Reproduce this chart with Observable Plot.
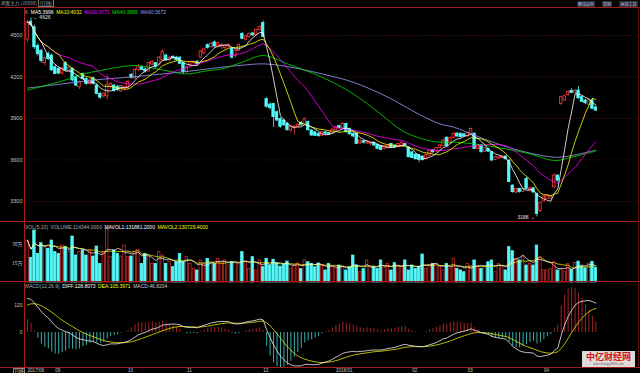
<!DOCTYPE html>
<html><head><meta charset="utf-8">
<script src="https://cdn.jsdelivr.net/npm/d3@7"></script>
<script src="https://cdn.jsdelivr.net/npm/@observablehq/plot@0.6"></script>
<style>
html,body{margin:0;padding:0;background:#000;}
#wrap{position:relative;width:640px;height:373px;background:#000;overflow:hidden;font-family:"Liberation Sans","Noto Sans CJK SC",sans-serif;}
.p{position:absolute;left:0;}
.ln{position:absolute;background:#a41c1c;}
.lg{position:absolute;left:25px;font-size:5px;line-height:6px;white-space:nowrap;}
.lg span{margin-right:2.5px;}
.btn{position:absolute;top:0.5px;height:6px;line-height:6px;font-size:4px;background:#2e2e3c;color:#b4bcd4;text-align:center;font-family:"Noto Sans CJK SC",sans-serif;}
</style></head><body>
<div id="wrap">
  <div style="position:absolute;left:1px;top:0px;font-size:4.6px;line-height:7px;color:#a0a0a0;font-family:'Noto Sans CJK SC',sans-serif;white-space:nowrap;">鸡蛋主力 (JD888) <span style="border:0.5px solid #777;padding:0 1px;">(日线)</span></div>
  <div class="btn" style="left:577px;width:18px;">叠加品种</div>
  <div class="btn" style="left:602px;width:10px;">周期</div>
  <div class="btn" style="left:619px;width:19px;">画线工具</div>
  <div id="main" class="p" style="top:7px;"></div>
  <div id="vol" class="p" style="top:221px;"></div>
  <div id="macd" class="p" style="top:282px;"></div>
  <div class="ln" style="left:0;top:7px;width:640px;height:1px;"></div>
  <div class="ln" style="left:0;top:221px;width:640px;height:1px;"></div>
  <div class="ln" style="left:0;top:281px;width:640px;height:1px;"></div>
  <div class="ln" style="left:0;top:367px;width:640px;height:1px;"></div>
  <div class="ln" style="left:24px;top:7px;width:1px;height:360px;"></div>
  <div class="ln" style="left:638px;top:7px;width:1px;height:360px;background:#5a1010;"></div>
  <div class="lg" style="top:8.5px;"><span style="color:#aaa">K</span><span style="color:#fff">MA5:3996</span><span style="color:#ffff00">MA10:4032</span><span style="color:#ff00ff">MA20:3771</span><span style="color:#00e000">MA40:3665</span><span style="color:#9a9aff">MA60:3672</span></div>
  <div class="lg" style="top:224px;"><span style="color:#aaa">VOL(5,10)</span><span style="color:#aaa">VOLUME:114344.0000</span><span style="color:#fff">MAVOL1:131881.2000</span><span style="color:#ffff00">MAVOL2:130729.4000</span></div>
  <div class="lg" style="top:282.5px;"><span style="color:#aaa">MACD(12,26,9)</span><span style="color:#fff">DIFF:128.8073</span><span style="color:#ffff00">DEA:105.3971</span><span style="color:#ccc">MACD:46.8204</span></div>
  <div style="position:absolute;left:13px;top:367.5px;font-size:4.6px;line-height:5px;color:#ddd;border:0.5px solid #888;padding:0 0.5px;font-family:'Noto Sans CJK SC',sans-serif;">日线</div>
  <div style="position:absolute;left:582px;top:351px;width:53px;height:16px;background:rgba(240,235,235,0.92);text-align:center;">
    <div style="font-size:9px;line-height:11px;height:11px;font-weight:bold;color:#d21414;font-family:'Noto Sans CJK SC',sans-serif;">中亿财经网</div>
    <div style="font-size:3px;line-height:4px;height:4px;color:#666;">www.zhongyi9999.com</div>
  </div>
</div>
<script>
const opens  = [4470,4600,4560,4425,4390,4300,4365,4355,4270,4258, 4225,4300,4240,4258,4198,4126,4222,4186,4150,4190, 4138,4078,4060,4060,4130,4138,4130,4095,4115,4125, 4215,4190,4250,4270,4255,4240,4290,4300,4290,4320, 4355,4320,4345,4340,4340,4300,4235,4285,4300,4310, 4340,4370,4430,4415,4450,4420,4420,4410,4420,4405, 4350,4390,4512,4470,4490,4515,4505,4540,4590,4040, 4000,4005,3945,3897,3885,3860,3813,3830,3840,3870, 3860,3873,3813,3800,3790,3775,3800,3795,3790,3815, 3845,3830,3860,3825,3790,3790,3720,3735,3720,3715, 3725,3710,3700,3680,3685,3715,3705,3695,3700,3715, 3690,3655,3640,3635,3625,3610,3630,3670,3660,3685, 3700,3760,3720,3760,3790,3790,3785,3770,3790,3790, 3680,3705,3660,3680,3656,3600,3610,3615,3625,3596, 3415,3365,3390,3370,3463,3375,3395,3355,3230,3300, 3320,3320,3403,3487,4005,4030,4070,4100,4085,4102, 4054,4030,4000,4030,3980];
const highs  = [4610,4626,4575,4440,4400,4345,4380,4365,4290,4270, 4270,4310,4275,4265,4210,4170,4230,4195,4190,4200, 4150,4090,4085,4215,4160,4145,4140,4140,4130,4175, 4225,4260,4290,4280,4265,4310,4320,4305,4350,4400, 4365,4350,4355,4350,4345,4305,4275,4310,4315,4320, 4395,4410,4440,4450,4460,4450,4445,4430,4440,4410, 4400,4440,4520,4500,4520,4520,4545,4570,4605,4050, 4015,4010,3955,3905,3890,3870,3845,3850,3860,3875, 3905,3880,3820,3805,3795,3805,3805,3800,3825,3840, 3850,3870,3865,3830,3795,3795,3745,3740,3740,3730, 3730,3715,3705,3705,3710,3720,3710,3720,3730,3720, 3695,3660,3645,3640,3630,3640,3670,3675,3690,3710, 3750,3770,3765,3795,3800,3795,3790,3800,3830,3795, 3710,3710,3690,3685,3660,3625,3625,3630,3630,3600, 3420,3395,3395,3395,3475,3400,3400,3360,3295,3345, 3350,3345,3500,3495,4060,4070,4100,4115,4110,4130, 4060,4040,4040,4045,3990];
const lows   = [4450,4560,4400,4350,4300,4280,4320,4240,4215,4215, 4215,4240,4230,4165,4130,4110,4180,4140,4140,4140, 4070,4040,4050,4035,4110,4090,4095,4090,4100,4115, 4185,4180,4240,4245,4230,4235,4280,4265,4280,4310, 4315,4310,4325,4315,4290,4220,4225,4280,4290,4290, 4330,4360,4400,4410,4410,4410,4400,4395,4410,4330, 4340,4385,4470,4460,4480,4495,4500,4530,4480,3975, 3960,3835,3880,3830,3845,3810,3800,3780,3830,3845, 3855,3810,3770,3770,3765,3770,3780,3780,3785,3810, 3825,3825,3795,3780,3760,3710,3710,3715,3710,3700, 3695,3675,3665,3675,3680,3685,3685,3690,3695,3700, 3615,3610,3600,3580,3595,3600,3625,3650,3655,3680, 3695,3695,3715,3755,3765,3760,3765,3765,3785,3675, 3675,3650,3655,3655,3590,3595,3605,3610,3600,3435, 3360,3355,3360,3365,3385,3370,3360,3188,3220,3295, 3315,3315,3395,3440,3995,4025,4060,4080,4080,4040, 4015,4000,3990,3965,3950];
const closes = [4596,4575,4415,4365,4315,4335,4330,4248,4222,4225, 4262,4248,4268,4175,4138,4162,4186,4150,4175,4150, 4078,4050,4080,4140,4150,4100,4105,4135,4125,4165, 4195,4250,4270,4250,4240,4300,4310,4275,4340,4380, 4320,4340,4335,4320,4295,4235,4270,4305,4308,4295, 4385,4400,4410,4440,4420,4445,4430,4425,4432,4340, 4390,4430,4476,4495,4510,4500,4540,4560,4490,3985, 3975,3910,3885,3840,3850,3815,3840,3835,3855,3850, 3895,3815,3777,3775,3772,3800,3790,3785,3820,3835, 3830,3860,3800,3785,3770,3716,3740,3725,3735,3725, 3705,3680,3672,3700,3705,3690,3692,3715,3725,3705, 3620,3615,3605,3600,3598,3635,3665,3655,3685,3705, 3740,3700,3760,3790,3770,3765,3770,3795,3825,3680, 3705,3656,3685,3660,3596,3620,3620,3625,3605,3440, 3367,3390,3367,3390,3391,3395,3365,3210,3290,3335, 3340,3335,3487,3451,4054,4060,4090,4085,4100,4045, 4020,4010,4030,3970,3957];
const volumes = [331000,195000,410000,226000,310000,279000,266000,331000,240000,226000, 292000,279000,240000,363000,213000,240000,253000,213000,253000,205000, 284000,147000,240000,424000,200000,253000,226000,205000,292000,200000, 205000,240000,258000,147000,226000,200000,147000,147000,240000,213000, 147000,160000,121000,160000,226000,160000,200000,147000,108000,95000, 174000,147000,187000,160000,147000,187000,160000,174000,134000,160000, 160000,134000,240000,160000,108000,200000,95000,174000,121000,187000, 134000,180000,150000,125000,140000,165000,110000,135000,150000,105000, 175000,160000,145000,120000,150000, 134000,95000,147000,121000,110000, 134000,126000,95000,120000,213000, 134000,81000,105000,174000,121000, 121000,108000,174000,115000,147000, 95000,153000,134000,120000,174000, 95000,134000,108000,121000,221000, 108000,134000,147000,147000,121000, 95000,147000,110000,187000,108000, 95000,81000,147000,130000,174000, 121000,108000,121000,160000,174000, 81000,147000,121000,95000,279000, 247000,187000,174000,200000,134000, 147000,134000,292000,200000,95000, 95000,108000,160000,95000,100000, 85000,145000,98000,155000,164888, 124000,112000,148000,161062,114344];

// MA40 / MA60 readings (bar index, value)
const ma40Idx = [0,2,7,12,16,21,26,31,35,40,46,52,56,62,68,75,85,94,102,108,114,119,123,129,138,145,152,157,164];
const ma40Val = [4105,4118,4150,4186,4222,4246,4270,4283,4270,4246,4222,4246,4258,4307,4355,4295,4198,4078,3930,3813,3752,3728,3728,3716,3680,3644,3596,3620,3665];
const ma60Idx = [0,10,20,30,38,46,56,62,68,75,85,94,104,113,119,123,133,142,152,157,164];
const ma60Val = [4120,4150,4180,4200,4220,4240,4270,4285,4295,4275,4222,4162,4054,3930,3861,3837,3740,3668,3620,3632,3672];

// MACD starting state
const ema12Start = 4450, ema26Start = 4300, deaStart = 115;

const monthTicks  = [0,8,29,46,68,89,111,127,149];
const monthLabels = ["2017/08","09","10","11","12","2018/01","02","03","04"];
const priceTicks = [3300,3600,3900,4200,4500];
const volTicks = [150000,300000];
const volTickLabels = ["15万","30万"];
const macdTicks = [0,120];

const RED = "#ff3a3a", CYAN = "#54f8f8", GRID = "#5a1212", AX = "#c4c4c4";
const FONT = "Liberation Sans, sans-serif";

const bars = closes.map((c, i) => ({i, o: opens[i], h: highs[i], l: lows[i], c, v: volumes[i]}));
let e12 = ema12Start, e26 = ema26Start, dea = deaStart;
for (const b of bars) {
  e12 += (b.c - e12) * 2 / 13;
  e26 += (b.c - e26) * 2 / 27;
  b.dif = e12 - e26;
  dea += (b.dif - dea) * 2 / 10;
  b.dea = dea;
  b.macd = 2 * (b.dif - dea);
}
const up = d => d.c >= d.o;
const W = 0.35;
const xDom = [-0.867, 176.3];
const common = {width: 640, marginLeft: 24, marginRight: 2, marginTop: 0,
  style: {background: "transparent", color: AX, fontFamily: FONT, overflow: "visible"}};

const hiIdx = d3.maxIndex(highs), loIdx = d3.minIndex(lows);
const plain = d => String(d);

const main = Plot.plot({
  ...common, height: 214, marginBottom: 0,
  x: {type: "linear", domain: xDom, axis: null},
  y: {domain: [3155.2, 4702.4], label: null},
  marks: [
    Plot.ruleY(priceTicks, {stroke: GRID, strokeDasharray: "1,1.5", strokeWidth: 0.8}),
    Plot.axisY(priceTicks, {anchor: "left", tickSize: 0, tickPadding: 2, fontSize: 5.5, fill: AX, tickFormat: plain, label: null}),
    Plot.ruleX(bars, {x: "i", y1: "l", y2: "h", stroke: d => up(d) ? RED : CYAN, strokeWidth: 0.8}),
    Plot.rect(bars, {x1: d => d.i - W, x2: d => d.i + W, y1: "o", y2: "c",
      fill: d => up(d) ? "#000" : CYAN, stroke: d => up(d) ? RED : CYAN, strokeWidth: 0.8}),
    Plot.line(ma60Idx, {x: d => d, y: (d, k) => ma60Val[k], curve: "catmull-rom", stroke: "#9a9aff", strokeWidth: 0.8}),
    Plot.line(ma40Idx, {x: d => d, y: (d, k) => ma40Val[k], curve: "catmull-rom", stroke: "#00e000", strokeWidth: 0.8}),
    Plot.lineY(bars, Plot.windowY({k: 20, anchor: "end", reduce: "mean", strict: false}, {x: "i", y: "c", stroke: "#ff00ff", strokeWidth: 0.8})),
    Plot.lineY(bars, Plot.windowY({k: 10, anchor: "end", reduce: "mean", strict: false}, {x: "i", y: "c", stroke: "#ffff00", strokeWidth: 0.8})),
    Plot.lineY(bars, Plot.windowY({k: 5, anchor: "end", reduce: "mean", strict: false}, {x: "i", y: "c", stroke: "#ffffff", strokeWidth: 0.8})),
    Plot.text([hiIdx], {x: d => d, y: d => highs[d], text: d => "← " + highs[d], textAnchor: "start", dx: 2, dy: -1, fill: "#e0e0e0", fontSize: 5}),
    Plot.text([loIdx], {x: d => d, y: d => lows[d], text: d => lows[d] + " →", textAnchor: "end", dx: -2, fill: "#e0e0e0", fontSize: 5})
  ]
});
document.getElementById("main").append(main);

const volMap = new Map(volTicks.map((t, k) => [t, volTickLabels[k]]));
const vol = Plot.plot({
  ...common, height: 61, marginBottom: 0,
  x: {type: "linear", domain: xDom, axis: null},
  y: {domain: [0, 481600], label: null},
  marks: [
    Plot.axisY(volTicks, {anchor: "left", tickSize: 0, tickPadding: 2, fontSize: 5, fill: AX, tickFormat: d => volMap.get(d), label: null, fontFamily: "Noto Sans CJK SC, sans-serif"}),
    Plot.rect(bars, {x1: d => d.i - W, x2: d => d.i + W, y1: 0, y2: "v",
      fill: d => up(d) ? "#000" : CYAN, stroke: d => up(d) ? "#c82828" : CYAN, strokeWidth: 0.8}),
    Plot.lineY(bars, Plot.windowY({k: 10, anchor: "end", reduce: "mean", strict: false}, {x: "i", y: "v", stroke: "#ffff00", strokeWidth: 0.7})),
    Plot.lineY(bars, Plot.windowY({k: 5, anchor: "end", reduce: "mean", strict: false}, {x: "i", y: "v", stroke: "#ffffff", strokeWidth: 0.7}))
  ]
});
document.getElementById("vol").append(vol);

const monthMap = new Map(monthTicks.map((t, k) => [t, monthLabels[k]]));
const macd = Plot.plot({
  ...common, height: 91, marginBottom: 6,
  x: {type: "linear", domain: xDom, label: null},
  y: {domain: [-155.4, 222], label: null},
  marks: [
    Plot.axisY(macdTicks, {anchor: "left", tickSize: 0, tickPadding: 2, fontSize: 5, fill: AX, tickFormat: plain, label: null}),
    Plot.axisX(monthTicks, {anchor: "bottom", tickSize: 0, tickPadding: 1, fontSize: 4.6, fill: AX, textAnchor: "start", tickFormat: d => monthMap.get(d), label: null}),
    Plot.ruleX(bars, {x: "i", y1: 0, y2: "macd", stroke: d => d.macd >= 0 ? "#e83030" : CYAN, strokeWidth: 0.7}),
    Plot.lineY(bars, {x: "i", y: "dea", stroke: "#e8e800", strokeWidth: 0.8}),
    Plot.lineY(bars, {x: "i", y: "dif", stroke: "#f0f0f0", strokeWidth: 0.8})
  ]
});
document.getElementById("macd").append(macd);
</script>
</body></html>
